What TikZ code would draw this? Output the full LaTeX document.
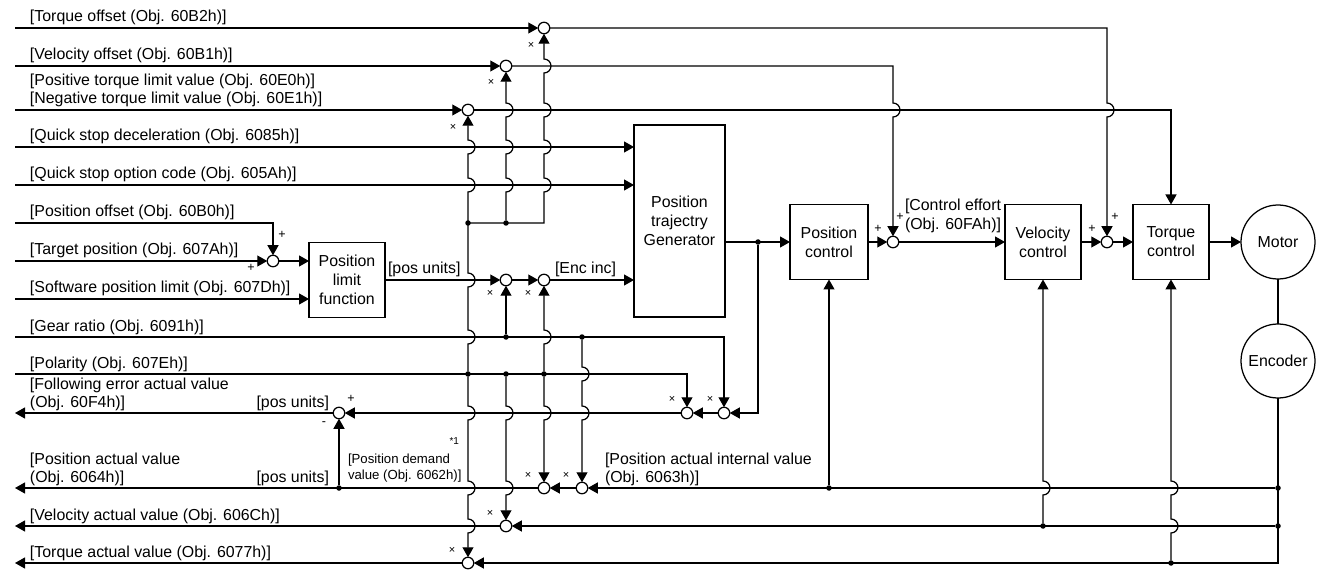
\documentclass[tikz,border=0pt]{standalone}
\usepackage{fontspec}
\setmainfont{Liberation Sans}
\usetikzlibrary{arrows.meta}
\begin{document}
\begin{tikzpicture}[x=1pt,y=-1pt,line width=1.25pt,
  every node/.style={inner sep=0pt,outer sep=0pt},
  lbl/.style={anchor=base west,font=\fontsize{15.9}{18}\selectfont},
  lblr/.style={anchor=base east,font=\fontsize{15.9}{18}\selectfont},
  lbls/.style={anchor=base west,font=\fontsize{13.2}{16}\selectfont},
  sum/.style={circle,draw,fill=white,minimum size=11.5pt},
  dot/.style={circle,fill,minimum size=5.5pt},
  blk/.style={draw,align=center,font=\fontsize{15.9}{19}\selectfont},
  rnd/.style={circle,draw,minimum size=74pt,font=\fontsize{15.9}{19}\selectfont},
  tip/.style={-{Triangle[length=10pt,width=11pt]}},
  mul/.style={font=\fontsize{11}{12}\selectfont},
  sgn/.style={font=\fontsize{12.5}{14}\selectfont},
]
\path[fill=white] (0,0) rectangle (1318,572);

% free ends
\coordinate (iTO) at (15,28);
\coordinate (iVO) at (15,66);
\coordinate (iTL) at (15,110);
\coordinate (iQD) at (15,147);
\coordinate (iQO) at (15,185);
\coordinate (iPO) at (15,223);
\coordinate (iTP) at (15,261);
\coordinate (iSW) at (15,299);
\coordinate (iGR) at (15,337);
\coordinate (iPL) at (15,374);
\coordinate (oFE) at (15,413);
\coordinate (oPA) at (15,488);
\coordinate (oVA) at (15,526);
\coordinate (oTA) at (15,563);
\coordinate (c3) at (544,223);
\coordinate (cE) at (1278,563);

% blocks
\node[blk,minimum width=76pt,minimum height=75pt] (bPL) at (347,280) {Position\\limit\\function};
\node[blk,minimum width=91pt,minimum height=192pt] (bTG) at (679.5,221) {Position\\trajectry\\Generator};
\node[blk,minimum width=78pt,minimum height=75pt] (bPC) at (829,242) {Position\\control};
\node[blk,minimum width=76pt,minimum height=75pt] (bVC) at (1043,242) {Velocity\\control};
\node[blk,minimum width=76pt,minimum height=75pt] (bTC) at (1171,242) {Torque\\control};
\node[rnd] (mot) at (1278,242) {Motor};
\node[rnd] (enc) at (1278,361) {Encoder};

% summing points
\node[sum] (sTO) at (544,28) {};
\node[sum] (sVO) at (506,66) {};
\node[sum] (sTL) at (468,110) {};
\node[sum] (sTP) at (273,261) {};
\node[sum] (sE1) at (506,280) {};
\node[sum] (sE2) at (544,280) {};
\node[sum] (sF0) at (339,413) {};
\node[sum] (sF1) at (687,413) {};
\node[sum] (sF2) at (724,413) {};
\node[sum] (sP1) at (544,488) {};
\node[sum] (sP2) at (582,488) {};
\node[sum] (sV) at (506,526) {};
\node[sum] (sT) at (468,563) {};
\node[sum] (sC1) at (893,242) {};
\node[sum] (sC2) at (1107,242) {};

% junction dots
\node[dot] (d1) at (468,223) {};
\node[dot] (d2) at (506,223) {};
\node[dot] (d4) at (506,337) {};
\node[dot] (d5) at (582,337) {};
\node[dot] (d6) at (468,374) {};
\node[dot] (d7) at (506,374) {};
\node[dot] (d8) at (544,374) {};
\node[dot] (d9) at (758,242) {};
\node[dot] (d10) at (339,488) {};
\node[dot] (d11) at (829,488) {};
\node[dot] (d12) at (1043,526) {};
\node[dot] (d13) at (1171,563) {};
\node[dot] (d14) at (1278,488) {};
\node[dot] (d15) at (1278,526) {};

% input lines
\draw[tip] (iTO) -- (sTO);
\draw[tip] (iVO) -- (sVO);
\draw[tip] (iTL) -- (sTL);
\draw[tip] (iQD) -- (iQD -| bTG.west);
\draw[tip] (iQO) -- (iQO -| bTG.west);
\draw[tip] (iPO) -- (iPO -| sTP) -- (sTP);
\draw[tip] (iTP) -- (sTP);
\draw[tip] (sTP) -- (sTP -| bPL.west);
\draw[tip] (iSW) -- (iSW -| bPL.west);
\draw[tip] (bPL.east |- sE1) -- (sE1);
\draw[tip] (sE1) -- (sE2);
\draw[tip] (sE2) -- (sE2 -| bTG.west);
\draw[tip] (iGR) -- (iGR -| sF2) -- (sF2);
\draw[tip] (iPL) -- (iPL -| sF1) -- (sF1);

% offsets and limit to the control loop
\draw[tip] (sTO) -- (1107,28) -- (1107,103) arc[start angle=-90,end angle=90,radius=7] -- (sC2);
\draw[tip] (sVO) -- (893,66) -- (893,103) arc[start angle=-90,end angle=90,radius=7] -- (sC1);
\draw[tip] (sTL) -- (1171,110) -- (bTC.north);

% polarity / gear verticals
\draw[tip] (d6) -- (468,344) arc[start angle=90,end angle=-90,radius=7]
  -- (468,287) arc[start angle=90,end angle=-90,radius=7]
  -- (468,192) arc[start angle=90,end angle=-90,radius=7]
  -- (468,154) arc[start angle=90,end angle=-90,radius=7] -- (sTL);
\draw[tip] (d6) -- (468,406) arc[start angle=-90,end angle=90,radius=7]
  -- (468,481) arc[start angle=-90,end angle=90,radius=7]
  -- (468,519) arc[start angle=-90,end angle=90,radius=7] -- (sT);
\draw[tip] (d1.center) -- (c3)
  -- (544,192) arc[start angle=90,end angle=-90,radius=7]
  -- (544,154) arc[start angle=90,end angle=-90,radius=7]
  -- (544,117) arc[start angle=90,end angle=-90,radius=7]
  -- (544,73) arc[start angle=90,end angle=-90,radius=7] -- (sTO);
\draw[tip] (d2) -- (506,192) arc[start angle=90,end angle=-90,radius=7]
  -- (506,154) arc[start angle=90,end angle=-90,radius=7]
  -- (506,117) arc[start angle=90,end angle=-90,radius=7] -- (sVO);
\draw[tip] (d4) -- (sE1);
\draw[tip] (d8) -- (544,344) arc[start angle=90,end angle=-90,radius=7] -- (sE2);
\draw[tip] (d8) -- (544,406) arc[start angle=-90,end angle=90,radius=7] -- (sP1);
\draw[tip] (d7) -- (506,406) arc[start angle=-90,end angle=90,radius=7]
  -- (506,481) arc[start angle=-90,end angle=90,radius=7] -- (sV);
\draw[tip] (d5) -- (582,367) arc[start angle=-90,end angle=90,radius=7]
  -- (582,406) arc[start angle=-90,end angle=90,radius=7] -- (sP2);

% control loop
\draw[tip] (d9 -| bTG.east) -- (bPC);
\draw[tip] (bPC) -- (sC1);
\draw[tip] (sC1) -- (bVC);
\draw[tip] (bVC) -- (sC2);
\draw[tip] (sC2) -- (bTC);
\draw[tip] (bTC) -- (mot);
\draw (mot) -- (enc);
\draw[tip] (enc) -- (cE) -- (sT);
\draw[tip] (d11) -- (bPC);
\draw[tip] (d12) -- (1043,495) arc[start angle=90,end angle=-90,radius=7] -- (bVC);
\draw[tip] (d13) -- (1171,533) arc[start angle=90,end angle=-90,radius=7]
  -- (1171,495) arc[start angle=90,end angle=-90,radius=7] -- (bTC);

% feedback / outputs
\draw[tip] (d9) -- (d9 |- sF2) -- (sF2);
\draw[tip] (sF2) -- (sF1);
\draw[tip] (sF1) -- (sF0);
\draw[tip] (sF0) -- (oFE);
\draw[tip] (d10) -- (sF0);
\draw[tip] (d14) -- (sP2);
\draw[tip] (sP2) -- (sP1);
\draw[tip] (sP1) -- (oPA);
\draw[tip] (d15) -- (sV);
\draw[tip] (sV) -- (oVA);
\draw[tip] (sT) -- (oTA);

% labels
\node[lbl] (t1) at (30,22) {[Torque offset (Obj. 60B2h)]};
\node[lbl] (t2) at (30,60) {[Velocity offset (Obj. 60B1h)]};
\node[lbl] (t3) at (30,86) {[Positive torque limit value (Obj. 60E0h)]};
\node[lbl] (t4) at (30,104) {[Negative torque limit value (Obj. 60E1h)]};
\node[lbl] (t5) at (30,141) {[Quick stop deceleration (Obj. 6085h)]};
\node[lbl] (t6) at (30,179) {[Quick stop option code (Obj. 605Ah)]};
\node[lbl] (t7) at (30,217) {[Position offset (Obj. 60B0h)]};
\node[lbl] (t8) at (30,255) {[Target position (Obj. 607Ah)]};
\node[lbl] (t9) at (30,293) {[Software position limit (Obj. 607Dh)]};
\node[lbl] (t10) at (30,331) {[Gear ratio (Obj. 6091h)]};
\node[lbl] (t11) at (30,368) {[Polarity (Obj. 607Eh)]};
\node[lbl] (t12) at (30,389) {[Following error actual value};
\node[lbl] (t12b) at (30,407) {(Obj. 60F4h)]};
\node[lblr] (u1) at (329,407) {[pos units]};
\node[lbl] (t13) at (30,464) {[Position actual value};
\node[lbl] (t13b) at (30,482) {(Obj. 6064h)]};
\node[lblr] (u2) at (329,482) {[pos units]};
\node[lbl] (t14) at (30,520) {[Velocity actual value (Obj. 606Ch)]};
\node[lbl] (t15) at (30,557) {[Torque actual value (Obj. 6077h)]};
\node[lbl] (u3) at (388,274) {[pos units]};
\node[lbl] (u4) at (555,274) {[Enc inc]};
\node[lbls] (pd1) at (348,463) {[Position demand};
\node[lbls] (pd2) at (348,479) {value (Obj. 6062h)]};
\node[anchor=base east,font=\fontsize{10}{12}\selectfont] (n1) at (459,444) {*1};
\node[lbl] (pi1) at (605,464) {[Position actual internal value};
\node[lbl] (pi2) at (605,482) {(Obj. 6063h)]};
\node[lbl] (ce1) at (905,211) {[Control effort};
\node[lbl] (ce2) at (905,230) {(Obj. 60FAh)]};

% multiplier marks
\node[mul] (m1) at (531,45) {×};
\node[mul] (m2) at (491,82) {×};
\node[mul] (m3) at (453,127) {×};
\node[mul] (m4) at (490,293) {×};
\node[mul] (m5) at (528,293) {×};
\node[mul] (m6) at (672,399) {×};
\node[mul] (m7) at (710,399) {×};
\node[mul] (m8) at (528,475) {×};
\node[mul] (m9) at (566,475) {×};
\node[mul] (m10) at (490,513) {×};
\node[mul] (m11) at (452,550) {×};

% signs
\node[sgn] (p1) at (282,235) {+};
\node[sgn] (p2) at (251,268) {+};
\node[sgn] (p3) at (878,229) {+};
\node[sgn] (p4) at (900,217) {+};
\node[sgn] (p5) at (1092,229) {+};
\node[sgn] (p6) at (1115,217) {+};
\node[sgn] (p7) at (351,399) {+};
\node[sgn] (p8) at (324,424) {-};
\end{tikzpicture}
\end{document}
